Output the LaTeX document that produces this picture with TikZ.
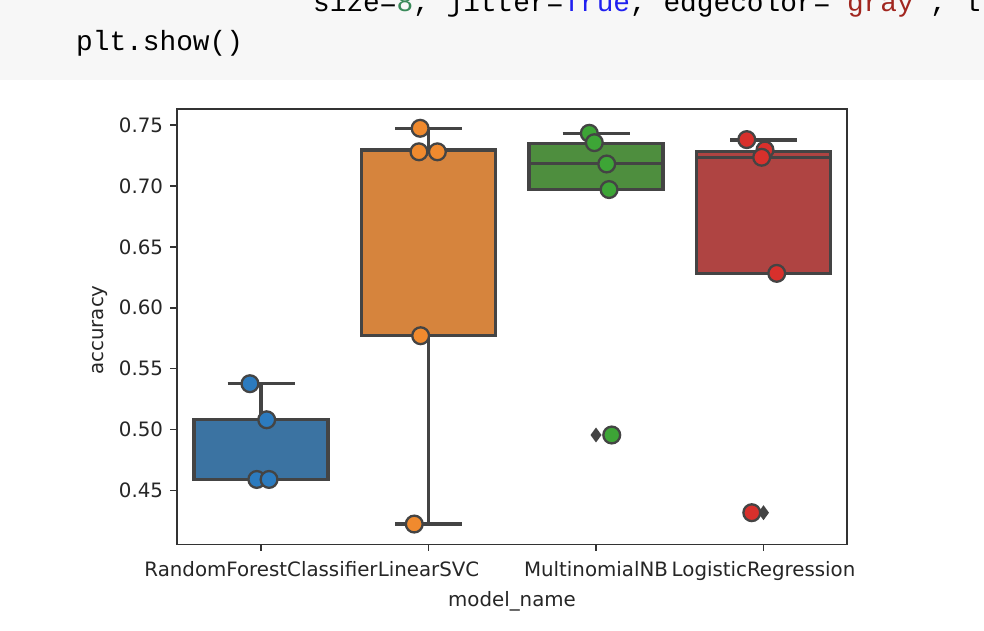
\documentclass[tikz,border=0pt]{standalone}
\usepackage{fontspec}
\setmainfont{DejaVu Sans}
\newfontfamily\codefont{Liberation Mono}
\usepackage{tikz}
\usetikzlibrary{positioning}
\definecolor{codebg}{HTML}{F7F7F7}
\definecolor{codenum}{HTML}{3A8A5A}
\definecolor{codekw}{HTML}{1F1FF0}
\definecolor{codestr}{HTML}{A1261F}
\definecolor{spinegray}{HTML}{333333}
\definecolor{linegray}{HTML}{444444}
\definecolor{boxblue}{HTML}{3B73A2}
\definecolor{boxorange}{HTML}{D6843D}
\definecolor{boxgreen}{HTML}{4E8E3E}
\definecolor{boxred}{HTML}{AF4442}
\definecolor{dotblue}{HTML}{2C7BBF}
\definecolor{dotorange}{HTML}{F08A2E}
\definecolor{dotgreen}{HTML}{3DA536}
\definecolor{dotred}{HTML}{D8302C}
\tikzstyle{ticklabel} = [inner sep=0pt, font=\fontsize{19.8}{22}\selectfont, text=black!85]
\tikzstyle{codeline} = [inner sep=0pt, anchor=base west, font=\codefont\fontsize{27.8}{32}\selectfont]
\tikzstyle{spine} = [draw=spinegray, line width=1.6pt]
\tikzstyle{boxline} = [draw=linegray, line width=3.2pt]
\tikzstyle{dot} = [draw=linegray, line width=2.3pt]

\begin{document}
\begin{tikzpicture}[x=1pt,y=-1pt]
\useasboundingbox (0,0) rectangle (984,630);
\clip (0,0) rectangle (984,630);
\fill[white] (0,0) rectangle (984,630);
% code cell
\fill[codebg] (0,0) rectangle (984,80);
\node (code1) [codeline] at (313,11) {size=\textcolor{codenum}{8}, jitter=\textcolor{codekw}{True}, edgecolor=\textcolor{codestr}{\textquotesingle gray\textquotesingle}, l};
\node (code2) [codeline] at (76,50) {plt.show()};
% axis labels
\node (ylabel) [ticklabel, rotate=90, anchor=base] at (103.5,330) {accuracy};
\node (xlabel) [ticklabel, anchor=base] at (512,606.5) {model\_name};
% data area
\begin{scope}[x=167.5pt, y=1218pt, shift={(261pt,-1038.5pt)}]
\foreach \v [count=\i] in {0.45,0.50,0.55,0.60,0.65,0.70,0.75}{
  \draw[spine] (-0.5,\v) -- ++(-7pt,0);
  \node (ytick\i) [ticklabel, anchor=east, xshift=-14pt] at (-0.5,\v) {\v};
}
\foreach \c/\name in {0/RandomForestClassifier,1/LinearSVC,2/MultinomialNB,3/LogisticRegression}{
  \draw[spine] (\c,0.4057) -- ++(0,-7pt);
  \node (xtick\c) [ticklabel, anchor=base, yshift=-32.2pt] at (\c,0.4057) {\name};
}
% boxes
\foreach \c/\lo/\qa/\md/\qb/\hi/\col in {
  0/0.459/0.459/0.459/0.508/0.5376/boxblue,
  1/0.4224/0.577/0.7295/0.7295/0.7473/boxorange,
  2/0.6972/0.6972/0.7186/0.735/0.7432/boxgreen,
  3/0.6282/0.6282/0.7235/0.728/0.7377/boxred}{
  \draw[boxline, fill=\col] (\c-0.4,\qa) rectangle (\c+0.4,\qb);
  \draw[boxline] (\c,\qb) -- (\c,\hi) (\c-0.2,\hi) -- (\c+0.2,\hi);
  \draw[boxline] (\c,\qa) -- (\c,\lo) (\c-0.2,\lo) -- (\c+0.2,\lo);
  \draw[boxline] (\c-0.4,\md) -- (\c+0.4,\md);
}
% fliers
\foreach \c/\v in {2/0.4955,3/0.4317}
  \fill[linegray] (\c,\v) ++(0,7.5pt) -- ++(5.5pt,-7.5pt) -- ++(-5.5pt,-7.5pt) -- ++(-5.5pt,7.5pt) -- cycle;
% points
\foreach \c/\v/\col in {
  -0.066/0.5376/dotblue, 0.034/0.508/dotblue, -0.025/0.459/dotblue, 0.048/0.459/dotblue,
  0.95/0.7473/dotorange, 0.943/0.728/dotorange, 1.053/0.728/dotorange, 0.953/0.577/dotorange, 0.915/0.4224/dotorange,
  1.96/0.7432/dotgreen, 1.99/0.7355/dotgreen, 2.064/0.718/dotgreen, 2.078/0.697/dotgreen, 2.094/0.4955/dotgreen,
  2.9/0.738/dotred, 3.009/0.7295/dotred, 2.989/0.7235/dotred, 3.079/0.6282/dotred, 2.93/0.4317/dotred}
  \draw[dot, fill=\col] (\c,\v) circle (8.4pt);
% frame
\draw[spine] (-0.5,0.4057) rectangle (3.5,0.7631);
\end{scope}
\end{tikzpicture}
\end{document}
